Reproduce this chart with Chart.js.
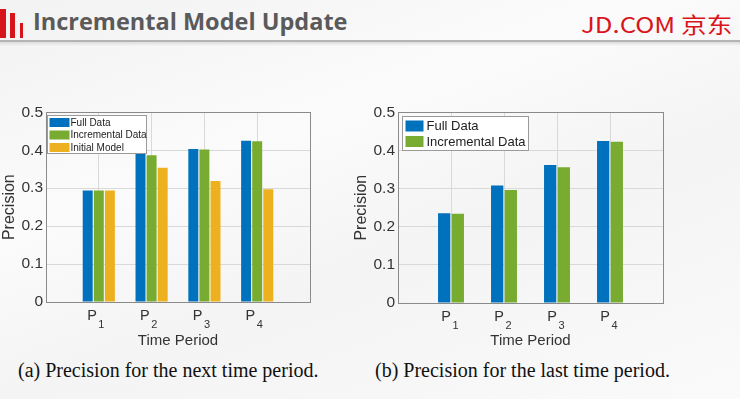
<!DOCTYPE html>
<html>
<head>
<meta charset="utf-8">
<script src="https://cdn.jsdelivr.net/npm/chart.js@4.4.1/dist/chart.umd.min.js"></script>
<style>
  html, body { margin: 0; padding: 0; }
  body {
    width: 740px; height: 399px; overflow: hidden; position: relative;
    background: linear-gradient(160deg, #f2f2f2 0%, #fbfbfb 35%, #f4f4f4 60%, #fafafa 100%);
    font-family: "Liberation Sans", Arial, sans-serif;
  }
  .bar { position: absolute; background: #d7141a; }
  #title {
    position: absolute; left: 33px; top: 5px;
    font: bold 23.5px "Open Sans", sans-serif; color: #5a5a5a; white-space: nowrap;
  }
  #logo {
    position: absolute; left: 581px; top: 7px;
    font: 22px "Noto Sans CJK SC", "Noto Sans", sans-serif; color: #d9141b;
    white-space: nowrap; transform: scaleX(1.17); transform-origin: left top;
  }
  #rule { position: absolute; left: 0; top: 40px; width: 740px; height: 2px; background: #b4b4b4; }
  #shade { position: absolute; left: 0; top: 42px; width: 740px; height: 4px;
    background: linear-gradient(#dcdcdc, rgba(230,230,230,0)); }
  .box { position: absolute; top: 100px; width: 330px; height: 250px; }
  .cap {
    position: absolute; top: 359px; font: 20px "Liberation Serif", "Times New Roman", serif;
    color: #111; white-space: nowrap;
  }
</style>
</head>
<body>
<div class="bar" style="left:0;top:9px;width:6px;height:29px"></div>
<div class="bar" style="left:10px;top:13px;width:5px;height:25px"></div>
<div class="bar" style="left:20px;top:23px;width:3px;height:15px"></div>
<div id="title">Incremental Model Update</div>
<div id="logo">JD.COM 京东</div>
<div id="rule"></div>
<div id="shade"></div>

<div class="box" style="left:0"><canvas id="chartNext" width="330" height="250"></canvas></div>
<div class="box" style="left:352px"><canvas id="chartLast" width="330" height="250"></canvas></div>

<div class="cap" style="left:18px">(a) Precision for the next time period.</div>
<div class="cap" style="left:375px">(b) Precision for the last time period.</div>

<script>
const categories = ['P1', 'P2', 'P3', 'P4'];
const yTicks = [0, 0.1, 0.2, 0.3, 0.4, 0.5];

// (a) next time period
const nextFull = [0.294, 0.393, 0.403, 0.425];
const nextIncremental = [0.294, 0.387, 0.402, 0.424];
const nextInitial = [0.294, 0.354, 0.319, 0.297];

// (b) last time period
const lastFull = [0.235, 0.308, 0.362, 0.425];
const lastIncremental = [0.234, 0.296, 0.356, 0.423];

const BLUE = '#0072BD', GREEN = '#77AC30', YELLOW = '#EDB120';
const FONT = '"Liberation Sans", Arial, sans-serif';

// empty slot on each side, like the matlab axis running 0..5
const padLabels = ['', ...categories, ''];
const pad = arr => [null, ...arr, null];

// legend inside the axes, box + tick labels with subscripts
const matlabLook = {
    id: 'matlabLook',
    afterDraw(chart, args, opts) {
        const ctx = chart.ctx;
        const a = chart.chartArea;
        ctx.save();

        // axes box
        ctx.strokeStyle = '#8a8a8a';
        ctx.lineWidth = 1;
        ctx.strokeRect(Math.round(a.left) + 0.5, Math.round(a.top) + 0.5,
            Math.round(a.right - a.left), Math.round(a.bottom - a.top));

        // x tick labels, P with subscript index
        const xs = chart.scales.x;
        chart.data.labels.forEach((lab, i) => {
            if (!lab) return;
            const cx = xs.getPixelForValue(i);
            const main = lab.charAt(0), sub = lab.slice(1);
            ctx.font = '14.5px ' + FONT;
            const wMain = ctx.measureText(main).width;
            ctx.font = '11px ' + FONT;
            const wSub = ctx.measureText(sub).width;
            const x0 = cx - (wMain + 1.5 + wSub) / 2 - opts.labelShift;
            ctx.fillStyle = '#333';
            ctx.textBaseline = 'alphabetic';
            ctx.textAlign = 'left';
            ctx.font = '14.5px ' + FONT;
            ctx.fillText(main, x0, a.bottom + 18);
            ctx.font = '11px ' + FONT;
            ctx.fillText(sub, x0 + wMain + 1.5, a.bottom + 26);
        });

        // legend
        const L = opts.legend;
        const bx = Math.round(a.left + L.x) + 0.5, by = Math.round(a.top + L.y) + 0.5;
        ctx.fillStyle = '#ffffff';
        ctx.fillRect(bx, by, L.w, L.h);
        ctx.strokeStyle = '#9a9a9a';
        ctx.strokeRect(bx, by, L.w, L.h);
        ctx.font = L.font;
        ctx.textBaseline = 'middle';
        chart.data.datasets.forEach((ds, i) => {
            const cy = by + L.first + i * L.step;
            ctx.fillStyle = ds.backgroundColor;
            ctx.fillRect(bx + L.sx, cy - L.sh / 2, L.sw, L.sh);
            ctx.fillStyle = '#222';
            ctx.fillText(ds.label, bx + L.tx, cy + 0.5);
        });
        ctx.restore();
    }
};

function makeChart(id, datasets, catPct, legendOpts, shift, padTop, padRight, xHeight) {
    return new Chart(document.getElementById(id), {
        type: 'bar',
        data: {
            labels: padLabels,
            datasets: datasets.map(d => ({
                label: d.label,
                data: pad(d.data),
                backgroundColor: d.color,
                borderWidth: 0,
                categoryPercentage: catPct,
                barPercentage: 0.9
            }))
        },
        options: {
            responsive: false,
            animation: false,
            layout: { padding: { top: padTop, right: padRight, left: 0, bottom: 0 } },
            plugins: {
                legend: { display: false },
                tooltip: { enabled: false },
                matlabLook: { legend: legendOpts, labelShift: shift }
            },
            scales: {
                x: {
                    offset: false,
                    grid: { offset: false, color: '#d9d9d9', drawTicks: false },
                    border: { display: false },
                    ticks: { display: false },
                    title: {
                        display: true, text: 'Time Period', color: '#333',
                        font: { family: FONT, size: 15 },
                        padding: { top: 0, bottom: 0 }
                    },
                    afterFit: s => { s.height = xHeight; }
                },
                y: {
                    min: 0, max: 0.5,
                    afterBuildTicks: s => { s.ticks = yTicks.map(v => ({ value: v })); },
                    grid: { color: '#d9d9d9', drawTicks: false },
                    border: { display: false },
                    ticks: {
                        padding: 3, color: '#333',
                        font: { family: FONT, size: 15.5 },
                        callback: v => String(v)
                    },
                    title: {
                        display: true, text: 'Precision', color: '#333',
                        font: { family: FONT, size: 16 },
                        padding: { top: 0, bottom: 0 }
                    },
                    afterFit: s => { s.width = 46; }
                }
            }
        },
        plugins: [matlabLook]
    });
}

makeChart('chartNext', [
    { label: 'Full Data', data: nextFull, color: BLUE },
    { label: 'Incremental Data', data: nextIncremental, color: GREEN },
    { label: 'Initial Model', data: nextInitial, color: YELLOW }
], 0.63, { x: 1, y: 3, w: 99, h: 38, sx: 2, sw: 20, sh: 9, tx: 23, first: 7, step: 12.5,
           font: '10px ' + FONT }, 3, 11, 20, 48);

makeChart('chartLast', [
    { label: 'Full Data', data: lastFull, color: BLUE },
    { label: 'Incremental Data', data: lastIncremental, color: GREEN }
], 0.515, { x: 4, y: 4, w: 126, h: 34, sx: 3, sw: 18, sh: 11, tx: 24, first: 9.5, step: 15.5,
            font: '13px ' + FONT }, 1, 12, 19, 47);
</script>
</body>
</html>
